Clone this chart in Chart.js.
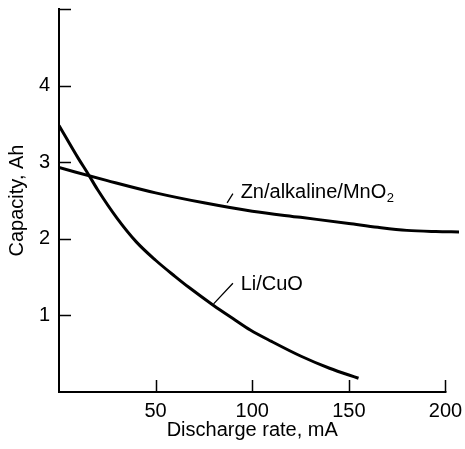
<!DOCTYPE html>
<html>
<head>
<meta charset="utf-8">
<script src="https://cdn.jsdelivr.net/npm/chart.js@4.4.1/dist/chart.umd.min.js"></script>
<style>
  html, body { margin: 0; padding: 0; background: #fff; }
</style>
</head>
<body>
<canvas id="capChart" width="465" height="449"></canvas>
<script>
// values
var xTicks = [0, 50, 100, 150, 200];
var yTicks = [0, 1, 2, 3, 4, 5];
var xAxisEnd = 200;
var xTitle = "Discharge rate, mA";
var yTitle = "Capacity, Ah";

var znRate = [0, 25, 50, 75, 100, 125, 150, 165, 180, 195, 207];
var znCap = [2.93, 2.76, 2.60, 2.47, 2.36, 2.28, 2.20, 2.15, 2.11, 2.095, 2.09];

var liRate = [0, 10, 15, 20, 30, 40, 50, 60, 67, 80, 90, 99, 110, 125, 140, 155];
var liCap = [3.48, 3.05, 2.85, 2.64, 2.27, 1.96, 1.72, 1.51, 1.37, 1.13, 0.96, 0.81, 0.66, 0.47, 0.31, 0.18];

var fontFamily = '"Liberation Sans", Arial, Helvetica, sans-serif';

function toPoints(xs, ys) {
  var pts = [];
  for (var i = 0; i < xs.length; i++) {
    pts.push({ x: xs[i], y: ys[i] });
  }
  return pts;
}

// bottom axis line (stops at 200), its title, and inward ticks
const axisAndTicks = {
  id: "axisAndTicks",
  afterDraw(chart) {
    const ctx = chart.ctx;
    const xs = chart.scales.x;
    const ys = chart.scales.y;
    const area = chart.chartArea;
    const endPx = xs.getPixelForValue(xAxisEnd);
    ctx.save();
    ctx.strokeStyle = "#000";
    ctx.fillStyle = "#000";

    ctx.lineWidth = 2;
    ctx.beginPath();
    ctx.moveTo(area.left - 1, area.bottom);
    ctx.lineTo(endPx + 1, area.bottom);
    ctx.stroke();

    ctx.lineWidth = 1.5;
    ctx.beginPath();
    for (var v of xTicks) {
      if (v === 0) continue;
      var px = Math.round(xs.getPixelForValue(v)) + 0.5;
      ctx.moveTo(px, area.bottom);
      ctx.lineTo(px, area.bottom - 12);
    }
    for (var v of yTicks) {
      if (v === 0) continue;
      var py = Math.round(ys.getPixelForValue(v)) + 0.5;
      ctx.moveTo(area.left, py);
      ctx.lineTo(area.left + 12, py);
    }
    ctx.stroke();

    // x title centred under the drawn axis (0..200)
    ctx.font = "20px " + fontFamily;
    ctx.textAlign = "center";
    ctx.textBaseline = "middle";
    ctx.fillText(xTitle, (area.left + endPx) / 2, xs.bottom - 19);
    ctx.restore();
  },
};

// curve names with their leader lines
const curveLabels = {
  id: "curveLabels",
  afterDraw(chart) {
    const ctx = chart.ctx;
    const xs = chart.scales.x;
    const ys = chart.scales.y;
    const X = (v) => xs.getPixelForValue(v);
    const Y = (v) => ys.getPixelForValue(v);

    ctx.save();
    ctx.strokeStyle = "#000";
    ctx.fillStyle = "#000";
    ctx.lineWidth = 1.3;

    ctx.beginPath();
    ctx.moveTo(X(87), Y(2.47));
    ctx.lineTo(X(90), Y(2.59));
    ctx.moveTo(X(80), Y(1.15));
    ctx.lineTo(X(90), Y(1.42));
    ctx.stroke();

    ctx.textBaseline = "middle";
    ctx.textAlign = "left";
    ctx.font = "20px " + fontFamily;
    var main = "Zn/alkaline/MnO";
    var tx = X(94);
    var ty = Y(2.60);
    ctx.fillText(main, tx, ty);
    var w = ctx.measureText(main).width;
    ctx.font = "13px " + fontFamily;
    ctx.fillText("2", tx + w + 0.5, ty + 6);

    ctx.font = "20px " + fontFamily;
    ctx.fillText("Li/CuO", X(94), Y(1.41));
    ctx.restore();
  },
};

new Chart(document.getElementById("capChart"), {
  type: "line",
  data: {
    datasets: [
      {
        label: "Zn/alkaline/MnO2",
        data: toPoints(znRate, znCap),
        borderColor: "#000",
        borderWidth: 3,
        pointRadius: 0,
        cubicInterpolationMode: "monotone",
      },
      {
        label: "Li/CuO",
        data: toPoints(liRate, liCap),
        borderColor: "#000",
        borderWidth: 3,
        pointRadius: 0,
        cubicInterpolationMode: "monotone",
      },
    ],
  },
  options: {
    responsive: false,
    animation: false,
    devicePixelRatio: 1,
    layout: { padding: { top: 9, right: 6, left: 0, bottom: 0 } },
    plugins: {
      legend: { display: false },
      tooltip: { enabled: false },
    },
    scales: {
      x: {
        type: "linear",
        min: 0,
        max: 207,
        afterBuildTicks: (scale) => {
          scale.ticks = xTicks.map((v) => ({ value: v }));
        },
        afterFit: (scale) => {
          scale.height = 57;
          scale.paddingLeft = 0;
          scale.paddingRight = 0;
        },
        grid: { display: false, drawOnChartArea: false, drawTicks: false },
        border: { display: false },
        ticks: {
          padding: 7,
          color: "#000",
          font: { family: fontFamily, size: 20 },
          maxRotation: 0,
          autoSkip: false,
          callback: (v) => (v === 0 ? "" : v),
        },
        title: { display: false },
      },
      y: {
        min: 0,
        max: 5,
        afterBuildTicks: (scale) => {
          scale.ticks = yTicks.map((v) => ({ value: v }));
        },
        afterFit: (scale) => {
          scale.width = 59;
          scale.paddingTop = 0;
          scale.paddingBottom = 0;
        },
        grid: { display: true, drawOnChartArea: false, drawTicks: false },
        border: { display: true, color: "#000", width: 2 },
        ticks: {
          padding: 9,
          color: "#000",
          font: { family: fontFamily, size: 20 },
          callback: (v) => (v === 0 || v === 5 ? "" : v),
        },
        title: {
          display: true,
          text: yTitle,
          color: "#000",
          font: { family: fontFamily, size: 20 },
          padding: { top: 5, bottom: 6 },
        },
      },
    },
  },
  plugins: [axisAndTicks, curveLabels],
});
</script>
</body>
</html>
